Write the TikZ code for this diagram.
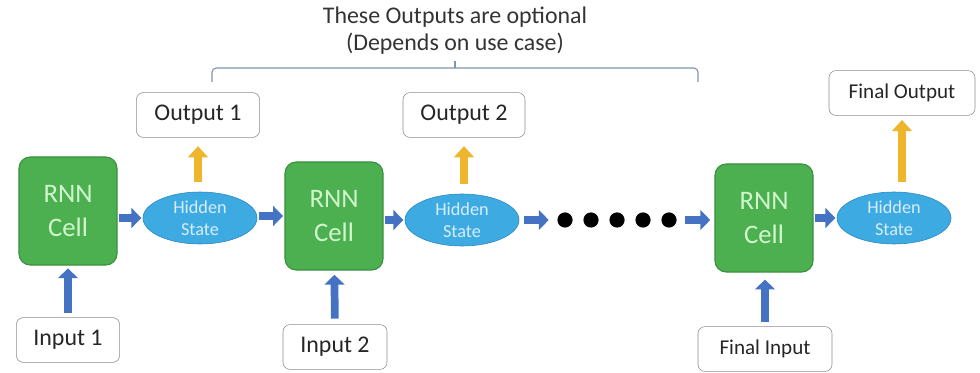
\documentclass[tikz,border=0pt]{standalone}
\usepackage{fontspec}
\setmainfont{Carlito}
\usetikzlibrary{arrows.meta, shapes.geometric}

\definecolor{cellgreen}{RGB}{76,175,80}
\definecolor{celledge}{RGB}{58,145,62}
\definecolor{cellfont}{RGB}{208,246,204}
\definecolor{statefill}{RGB}{62,170,226}
\definecolor{stateedge}{RGB}{42,132,192}
\definecolor{statefont}{RGB}{214,238,255}
\definecolor{flowblue}{RGB}{70,114,196}
\definecolor{outyellow}{RGB}{238,182,44}
\definecolor{bracegray}{RGB}{128,148,176}

\tikzset{
	cell/.style = {rectangle, rounded corners = 8pt, draw = celledge, thick, fill = cellgreen, text = cellfont, minimum width = 2.45cm, minimum height = 2.7cm, align = center, font = \fontsize{19}{24}\selectfont},
	state/.style = {ellipse, draw = stateedge, fill = statefill, text = statefont, minimum width = 2.85cm, minimum height = 1.3cm, inner sep = 0pt, align = center, font = \fontsize{13}{16}\selectfont},
	iobox/.style = {rectangle, rounded corners = 5pt, draw = black!45, fill = white, text = black!85, minimum height = 1.12cm, font = \fontsize{17}{20}\selectfont},
	flow/.style = {draw = flowblue, line width = 5.5pt, -{Triangle[length = 7pt, width = 14pt]}},
	outflow/.style = {draw = outyellow, line width = 5pt, -{Triangle[length = 8pt, width = 14pt]}}
}

\begin{document}
\begin{tikzpicture}[x = 0.025cm, y = -0.025cm]
	\useasboundingbox (0, 0) rectangle (980, 373);
	% cells and hidden states
	\node[cell] (cell1) at (68, 211) {RNN\\Cell};
	\node[state] (hid1) at (200, 218) {Hidden\\State};
	\node[cell] (cell2) at (334, 216) {RNN\\Cell};
	\node[state] (hid2) at (462, 220) {Hidden\\State};
	\node[cell] (cell3) at (764, 218) {RNN\\Cell};
	\node[state] (hid3) at (894, 218) {Hidden\\State};
	% the dots
	\foreach \i/\x in {1/565, 2/591, 3/617, 4/643, 5/669}
		\node[circle, fill = black, inner sep = 0pt, minimum size = 0.38cm] (dot\i) at (\x, 220) {};
	% inputs and outputs
	\node[iobox, minimum width = 3.08cm] (out1) at (198, 115) {Output 1};
	\node[iobox, minimum width = 3.05cm] (out2) at (464, 115) {Output 2};
	\node[iobox, minimum width = 3.65cm, font = \fontsize{15}{18}\selectfont] (fout) at (902, 93) {Final Output};
	\node[iobox, minimum width = 2.58cm] (in1) at (68, 340) {Input 1};
	\node[iobox, minimum width = 2.6cm] (in2) at (335, 347) {Input 2};
	\node[iobox, minimum width = 3.35cm, font = \fontsize{15}{18}\selectfont] (fin) at (765, 349) {Final Input};
	% horizontal flow
	\draw[flow, shorten <= 1pt, shorten >= 1pt] (cell1.east |- hid1) -- (hid1);
	\draw[flow, shorten <= 1pt, shorten >= 1pt] (hid1.east |- cell2) -- (cell2);
	\draw[flow, shorten <= 1pt, shorten >= 1pt] (cell2.east |- hid2) -- (hid2);
	\draw[flow, shorten <= 3pt, shorten >= 6pt] (hid2.east) -- (dot1);
	\draw[flow, shorten <= 6pt, shorten >= 3pt] (dot5) -- (dot5 -| cell3.west);
	\draw[flow, shorten <= 1pt, shorten >= 1pt] (cell3.east |- hid3) -- (hid3);
	% inputs up
	\draw[flow, shorten <= 3pt, shorten >= 2pt] (in1) -- (cell1);
	\draw[flow, shorten <= 4pt, shorten >= 3pt] (in2) -- (cell2);
	\draw[flow, shorten <= 3pt, shorten >= 5pt] (fin) -- (fin |- cell3.south);
	% outputs up
	\draw[outflow, shorten <= 7pt, shorten >= 6pt] (hid1.north -| out1) -- (out1);
	\draw[outflow, shorten <= 7pt, shorten >= 6pt] (hid2.north -| out2) -- (out2);
	\draw[outflow, shorten <= 7pt, shorten >= 3pt] (hid3.north -| fout) -- (fout);
	% brace and note
	\draw[bracegray, thick, rounded corners = 3pt] (212, 82) -- (212, 68) -- (698, 68) -- (698, 82);
	\draw[bracegray, thick] (455, 68) -- (455, 61);
	\node[align = center, text = black!80, font = \fontsize{17}{19.2}\selectfont] (note) at (455, 31) {These Outputs are optional\\(Depends on use case)};
\end{tikzpicture}
\end{document}
